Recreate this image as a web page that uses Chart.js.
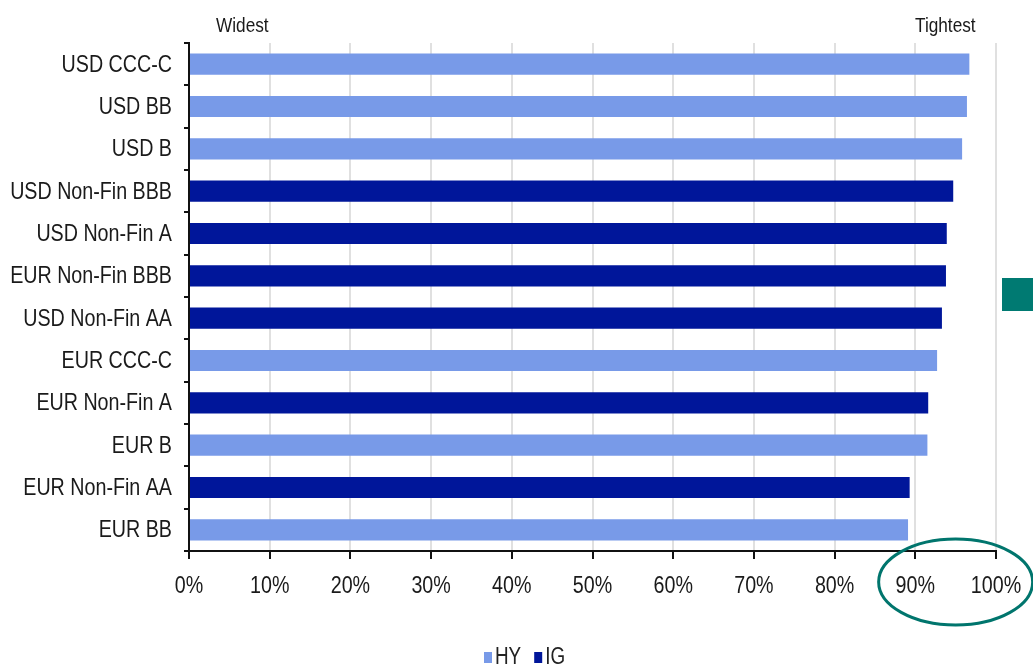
<!DOCTYPE html>
<html>
<head>
<meta charset="utf-8">
<script src="https://cdn.jsdelivr.net/npm/chart.js@4"></script>
<style>
  html, body { margin: 0; padding: 0; background: #fff; }
  #wrap { width: 1033px; height: 670px; }
</style>
</head>
<body>
<div id="wrap"><canvas id="myChart" width="1033" height="670"></canvas></div>
<script>
const labels = ['USD CCC-C', 'USD BB', 'USD B', 'USD Non-Fin BBB', 'USD Non-Fin A', 'EUR Non-Fin BBB',
  'USD Non-Fin AA', 'EUR CCC-C', 'EUR Non-Fin A', 'EUR B', 'EUR Non-Fin AA', 'EUR BB']
const values = [96.7, 96.4, 95.8, 94.7, 93.9, 93.8, 93.3, 92.7, 91.6, 91.5, 89.3, 89.1]
const group = ['HY', 'HY', 'HY', 'IG', 'IG', 'IG', 'IG', 'HY', 'IG', 'HY', 'IG', 'HY']
const xTicks = [0, 10, 20, 30, 40, 50, 60, 70, 80, 90, 100]

const FONT = "'Liberation Sans', Arial, sans-serif"
const colors = { HY: '#789AE8', IG: '#00169A' }

// no narrow font installed, so text is squeezed sideways like Arial Narrow
function narrowText(ctx, txt, x, y, size, align) {
  ctx.save()
  ctx.translate(x, y)
  ctx.scale(0.82, 1)
  ctx.font = size + 'px ' + FONT
  ctx.textAlign = align
  ctx.textBaseline = 'middle'
  ctx.fillText(txt, 0, 0)
  const w = ctx.measureText(txt).width * 0.82
  ctx.restore()
  return w
}

const extras = {
  id: 'extras',
  afterDraw(chart) {
    const ctx = chart.ctx
    const x = chart.scales.x
    const y = chart.scales.y
    ctx.save()
    ctx.fillStyle = '#1a1a1a'

    // axis labels
    labels.forEach((l, i) => narrowText(ctx, l, 172, y.getPixelForValue(i) + 1, 24, 'right'))
    xTicks.forEach(v => narrowText(ctx, v + '%', x.getPixelForValue(v), 586, 24, 'center'))

    narrowText(ctx, 'Widest', 216, 26, 21, 'left')
    narrowText(ctx, 'Tightest', 915, 26, 21, 'left')

    // legend
    let lx = 484
    for (const g of ['HY', 'IG']) {
      ctx.fillStyle = colors[g]
      ctx.fillRect(lx, 652, 8, 11)
      ctx.fillStyle = '#222'
      lx += 11 + narrowText(ctx, g, lx + 11, 658, 23, 'left') + 13
    }

    // teal circle around 90%-100%
    const cx = (x.getPixelForValue(90) + x.getPixelForValue(100)) / 2
    ctx.strokeStyle = '#00756D'
    ctx.lineWidth = 3
    ctx.beginPath()
    ctx.ellipse(cx, 582, 77, 43, 0, 0, Math.PI * 2)
    ctx.stroke()

    ctx.fillStyle = '#007A72'
    ctx.fillRect(1002, 278, 31, 33)
    ctx.restore()
  }
}

new Chart(document.getElementById('myChart').getContext('2d'), {
  type: 'bar',
  data: {
    labels: labels,
    datasets: ['HY', 'IG'].map(g => ({
      label: g,
      data: values.map((v, i) => group[i] === g ? v : null),
      backgroundColor: colors[g],
      borderWidth: 0,
      barPercentage: 0.5,
      categoryPercentage: 1
    }))
  },
  options: {
    indexAxis: 'y',
    responsive: false,
    animation: false,
    layout: { padding: { top: 43, right: 37, bottom: 59, left: 0 } },
    plugins: { legend: { display: false }, tooltip: { enabled: false } },
    scales: {
      x: {
        min: 0,
        max: 100,
        afterFit: s => { s.height = 60 },
        afterBuildTicks: s => { s.ticks = xTicks.map(v => ({ value: v })) },
        grid: { color: '#e0e0e0', lineWidth: 2, tickLength: 8, tickColor: '#111' },
        border: { color: '#111', width: 2 },
        ticks: { display: false }
      },
      y: {
        stacked: true,
        afterFit: s => { s.width = 189 },
        grid: { offset: true, drawOnChartArea: false, tickLength: 5, tickColor: '#111', lineWidth: 2 },
        border: { color: '#111', width: 2 },
        ticks: { display: false }
      }
    }
  },
  plugins: [extras]
})
</script>
</body>
</html>
